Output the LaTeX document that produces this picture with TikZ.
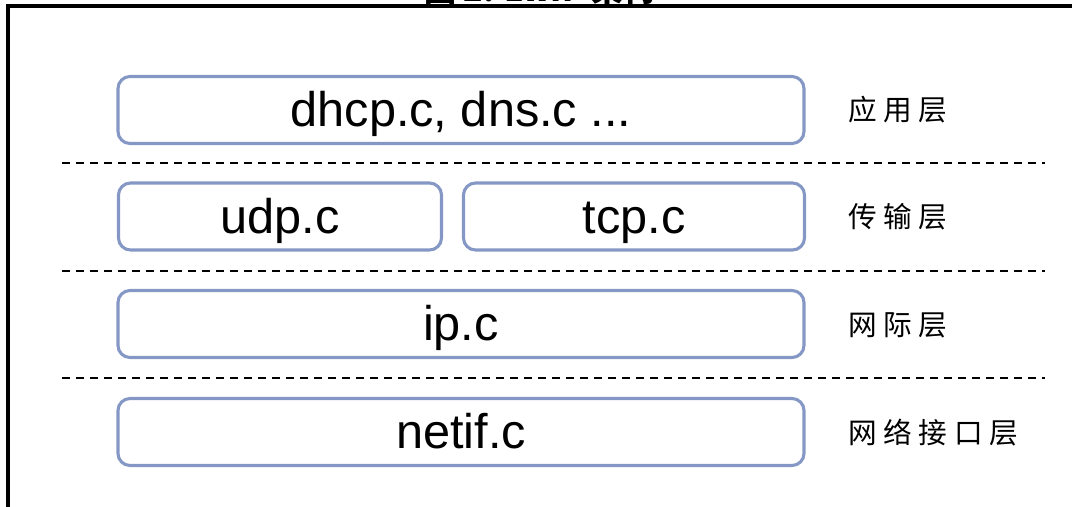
\documentclass[tikz,border=0pt]{standalone}
\usepackage{fontspec}
\setmainfont{Liberation Sans}
\newfontfamily\cjk[LetterSpace=23]{Noto Sans CJK SC}
\newfontfamily\cjktitle{Noto Sans CJK SC}
\usepackage{xcolor}
\definecolor{boxblue}{RGB}{133,152,197}

\begin{document}
\begin{tikzpicture}[x=0.75pt,y=-0.75pt,
  layer/.style={draw=boxblue, line width=2.3pt, rounded corners=9pt,
    inner sep=0pt, minimum height=67*0.75pt,
    text height=25pt, text depth=0pt,
    font=\fontsize{36.5}{40}\selectfont},
  tag/.style={anchor=west, inner sep=0pt, font=\cjk\fontsize{21.5}{24}\selectfont},
  sep/.style={dashed, dash pattern=on 6pt off 4.5pt, line width=0.9pt}]%
  \def\w{0.75pt}%
  \useasboundingbox (0,0) rectangle (1072,507);
  % title, cut off by the page edge
  \node[anchor=base, inner sep=0pt, font=\cjktitle\bfseries\fontsize{24}{28}\selectfont] (title) at (540,1) {图 2. LwIP 架构};
  % frame
  \draw[line width=2.3pt] (1080,6) -- (8,6) -- (8,515);

  % layers
  \node[layer, minimum width=686*\w] (app) at (461,110) {dhcp.c, dns.c ...};
  \node[layer, minimum width=323*\w] (udp) at (280,216.5) {udp.c};
  \node[layer, minimum width=341*\w] (tcp) at (634,216.5) {tcp.c};
  \node[layer, minimum width=686*\w] (ip) at (461,324) {ip.c};
  \node[layer, minimum width=686*\w] (netif) at (461,432) {netif.c};

  % separators
  \foreach \y in {163,271,378}
    \draw[sep] (62,\y) -- (1045,\y);

  % layer names
  \node[tag] (lapp) at (848,110) {应用层};
  \node[tag] (ltrans) at (848,217) {传输层};
  \node[tag] (lnet) at (848,325) {网际层};
  \node[tag] (llink) at (848,433) {网络接口层};
\end{tikzpicture}
\end{document}
